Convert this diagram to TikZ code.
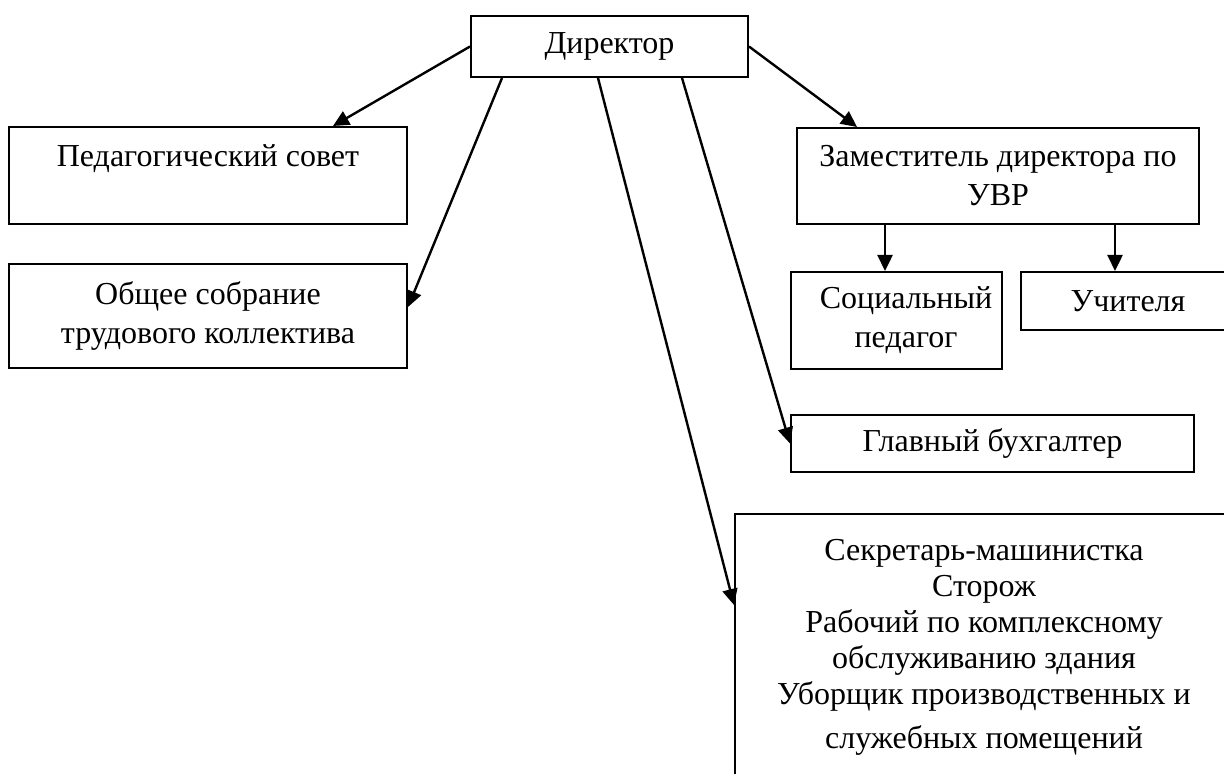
\documentclass[tikz,border=0pt]{standalone}
\usepackage{fontspec}
\setmainfont{Liberation Serif}
\usetikzlibrary{arrows.meta}
\usetikzlibrary{positioning}

\newcommand\boxfont{\fontsize{16}{19.5}\selectfont}

\begin{document}
\begin{tikzpicture}[x=0.5pt, y=-0.5pt]

        % Frame of the whole page (pixel units)
        \useasboundingbox (0,0) rectangle (1224,774);
        \clip (0,0) rectangle (1224,774);

        \tikzset{box/.style={draw, line width=1pt, align=center,
                font=\boxfont, inner sep=2pt}}
        \tikzset{arr/.style={-{Triangle[length=8pt,width=7.5pt]},
                line width=1.2pt}}

        % Boxes
        \begin{scope}
            \node[box, minimum width=138.5pt, minimum height=30.5pt]
            (Dir) at (609.5,46.5) {Директор};
            \node[box, minimum width=199pt, minimum height=48.5pt]
            (P1) at (208,175.5) {Педагогический совет\\ ~};
            \node[box, minimum width=199pt, minimum height=52pt]
            (P2) at (208,316) {Общее собрание\\ трудового коллектива};
            \node[box, minimum width=201pt, minimum height=48pt]
            (Z1) at (998,176) {Заместитель директора по\\ УВР};
            \node[box, minimum width=105.5pt, minimum height=48.5pt]
            (S1) at (896.5,320.5)
            {\hspace*{9.5pt}Социальный\\ \hspace*{9.5pt}педагог};
            \node[box, minimum width=107pt, minimum height=29pt]
            (S2) at (1128,301) {Учителя};
            \node[box, minimum width=201.5pt, minimum height=28.5pt]
            (B1) at (992.5,443.5) {Главный бухгалтер};
            \node[box, anchor=north west, minimum width=249pt,
            minimum height=148pt, font=\fontsize{16}{18}\selectfont]
            (B2) at (734,513)
            {Секретарь-машинистка\\ Сторож\\ Рабочий по комплексному\\
            обслуживанию здания\\ Уборщик производственных и\\[4pt]
            служебных помещений\\ ~};
        \end{scope}

        \begin{scope}[arr]
            \draw (Dir.west) -- ([xshift=62.5pt]P1.north);
            \draw ([xshift=16pt]Dir.south west) -- ([yshift=4.5pt]P2.east);
            \draw ([xshift=64pt]Dir.south west) -- ([yshift=-46pt]B2.north west);
            \draw ([xshift=106pt]Dir.south west) -- (B1.west);
            \draw (Dir.east) -- ([xshift=30.5pt]Z1.north west);
            \draw ([xshift=44.5pt]Z1.south west) -- ([xshift=47.5pt]S1.north west);
            \draw ([xshift=159.5pt]Z1.south west) -- ([xshift=47.5pt]S2.north west);
        \end{scope}

\end{tikzpicture}
\end{document}
